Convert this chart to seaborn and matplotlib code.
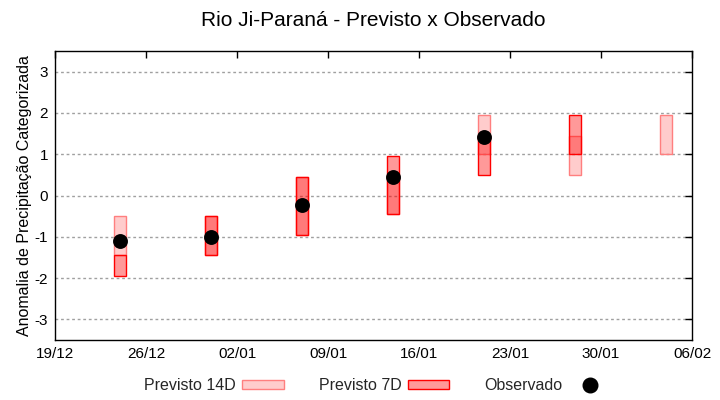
import numpy as np
import pandas as pd
import matplotlib
matplotlib.use("Agg")
import matplotlib.pyplot as plt
import matplotlib.dates as mdates
from matplotlib.patches import Patch
from matplotlib.lines import Line2D
import seaborn as sns

# ---- data ----
dates = ["2023-12-24", "2023-12-31", "2024-01-07", "2024-01-14",
         "2024-01-21", "2024-01-28", "2024-02-04"]
p14_low = [-1.45, -1.45, -0.95, -0.45, 1.0, 0.5, 1.0]
p14_high = [-0.5, -0.5, 0.45, 0.45, 1.95, 1.45, 1.95]
p7_low = [-1.95, -1.45, -0.95, -0.45, 0.5, 1.0, np.nan]
p7_high = [-1.45, -0.5, 0.45, 0.95, 1.45, 1.95, np.nan]
observado = [-1.1, -1.0, -0.22, 0.44, 1.41, np.nan, np.nan]
xtick_dates = ["2023-12-19", "2023-12-26", "2024-01-02", "2024-01-09",
               "2024-01-16", "2024-01-23", "2024-01-30", "2024-02-06"]
yticks = [-3, -2, -1, 0, 1, 2, 3]

sns.set_theme(style="white")
plt.rcParams["font.family"] = ["Liberation Sans", "DejaVu Sans"]

df = pd.DataFrame({
    "data": pd.to_datetime(dates),
    "p14_low": p14_low, "p14_high": p14_high,
    "p7_low": p7_low, "p7_high": p7_high,
    "obs": observado,
})

fig = plt.figure(figsize=(7.2, 4.0), dpi=100)
ax = fig.add_axes([55/720, 1-340/400, (692-55)/720, (340-51)/400])

width = 0.92
# 14D bars
ax.bar(df["data"], df["p14_high"] - df["p14_low"], bottom=df["p14_low"],
       width=width, color=(1, 0, 0, 0.2), edgecolor="#ff7f7f", linewidth=1.0, zorder=2)
# 7D bars
m7 = df["p7_low"].notna()
ax.bar(df.loc[m7, "data"], (df["p7_high"] - df["p7_low"])[m7], bottom=df.loc[m7, "p7_low"],
       width=width, color=(1, 0, 0, 0.4), edgecolor="#ff0000", linewidth=1.0, zorder=3)
# observed
sns.scatterplot(data=df.dropna(subset=["obs"]), x="data", y="obs", ax=ax,
                color="black", s=115, edgecolor="black", linewidth=0, zorder=4, legend=False)

ax.set_xlim(pd.Timestamp(xtick_dates[0]), pd.Timestamp(xtick_dates[-1]))
ax.set_ylim(-3.5, 3.5)
ax.set_xticks(pd.to_datetime(xtick_dates))
ax.xaxis.set_major_formatter(mdates.DateFormatter("%d/%m"))
ax.set_yticks(yticks)
ax.set_yticklabels([str(v) for v in yticks])
ax.tick_params(axis="both", direction="in", length=5, width=1, color="black",
               labelsize=11, labelcolor="black", top=True, right=True, pad=5)
ax.yaxis.grid(True, color="#a0a0a0", linestyle=(0, (2, 2)), linewidth=1)
ax.xaxis.grid(False)
ax.set_axisbelow(True)
for s in ax.spines.values():
    s.set_color("black")
    s.set_linewidth(1)
    s.set_visible(True)

ax.set_xlabel("")
ax.set_ylabel("Anomalia de Precipitação Categorizada", fontsize=11.5, color="black", labelpad=2)
ax.set_title("Rio Ji-Paraná - Previsto x Observado", fontsize=15, color="black", pad=18)

handles = [
    Patch(facecolor=(1, 0, 0, 0.2), edgecolor="#ff7f7f", linewidth=1.0),
    Patch(facecolor=(1, 0, 0, 0.4), edgecolor="#ff0000", linewidth=1.0),
    Line2D([], [], marker="o", linestyle="none", color="black", markersize=10.5),
]
labels = ["Previsto 14D", "Previsto 7D", "Observado"]
fig.legend(handles, labels, loc="center", bbox_to_anchor=(0.524, 1-386/400), ncol=3,
           frameon=False, markerfirst=False, fontsize=11.5, handlelength=2.6,
           handleheight=0.5, handletextpad=0.4, columnspacing=2.2)

fig.savefig("out.png", dpi=100)
